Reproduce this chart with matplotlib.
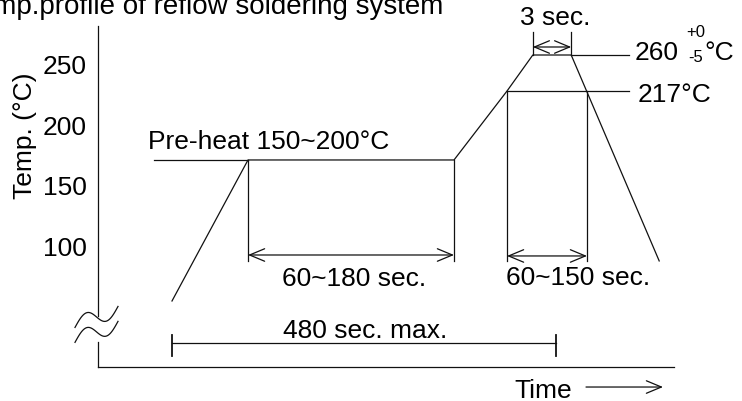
import numpy as np
import matplotlib
matplotlib.use("Agg")
from matplotlib import pyplot as plt

plt.rcParams['font.family'] = ['Liberation Sans', 'DejaVu Sans']

# reflow profile corner points (time in sec, temperature in degC, schematic)
profile_t = [0, 95, 352.5, 418.75, 451, 499, 609]
profile_T = [54.4, 170.6, 170.6, 227.4, 257.1, 257.1, 87.4]

preheat_T = 170.6
liquidus_T = 227.4
peak_T = 257.1
ref_end_t = 571           # where the 217 / 260 guide lines stop
preheat_left_t = -22.5
preheat_span = [95, 352.5]
liquidus_span = [418.75, 518.75]
peak_span = [451, 499]
total_span = [0, 480]
dim_bottom_T = 87.4

yticks = [100, 150, 200, 250]
c = '#111111'
lw = 0.9
fs = 19

fig = plt.figure(figsize=(7.42, 4.02), dpi=100)
ax = fig.add_axes([98/742, 34/402, 576/742, 341/402])
ax.set_xlim(-92.5, 627.5)
ax.set_ylim(0, 281)
for s in ['top', 'right', 'left']:
    ax.spines[s].set_visible(False)
ax.spines['bottom'].set_linewidth(lw)
ax.spines['bottom'].set_color(c)
ax.set_xticks([])
ax.set_yticks(yticks)
ax.set_yticklabels([str(v) for v in yticks], fontsize=fs)
ax.tick_params(axis='y', length=0, pad=8)

# left axis with break
x0 = ax.get_xlim()[0]
ax.plot([x0, x0], [281, 42], color=c, lw=lw, clip_on=False)
ax.plot([x0, x0], [20.6, 0], color=c, lw=lw, clip_on=False)
s = np.linspace(0, 1, 60)
for dy in [0, -12.3]:
    bt = -121.25 + s * 53.75
    bT = 32.6 + s * 17.3 + 7.5 * np.sin(2 * np.pi * s) + dy
    ax.plot(bt, bT, color=c, lw=lw, clip_on=False)

# profile
ax.plot(profile_t, profile_T, color=c, lw=lw, clip_on=False)

# guide lines
ax.plot([preheat_left_t, preheat_span[0]], [preheat_T, preheat_T], color=c, lw=lw)
ax.plot([liquidus_span[0], ref_end_t], [liquidus_T, liquidus_T], color=c, lw=lw)
ax.plot([peak_span[1], ref_end_t], [peak_T, peak_T], color=c, lw=lw)
for t in preheat_span:
    ax.plot([t, t], [preheat_T, dim_bottom_T], color=c, lw=lw)
for t in liquidus_span:
    ax.plot([t, t], [liquidus_T, dim_bottom_T], color=c, lw=lw)
for t in peak_span:
    ax.plot([t, t], [peak_T, 276], color=c, lw=lw, clip_on=False)
for t in total_span:
    ax.plot([t, t], [9.1, 26.4], color=c, lw=1.3)

arr = dict(arrowstyle='<->,head_length=0.6,head_width=0.25', color=c, lw=lw,
           shrinkA=0, shrinkB=0, mutation_scale=18)
ax.annotate('', xy=(preheat_span[0], 92.3), xytext=(preheat_span[1], 92.3), arrowprops=arr)
ax.annotate('', xy=(liquidus_span[0], 91.5), xytext=(liquidus_span[1], 91.5), arrowprops=arr)
ax.annotate('', xy=(peak_span[0], 263.7), xytext=(peak_span[1], 263.7), arrowprops=arr)
ax.plot(total_span, [19.8, 19.8], color=c, lw=lw)

# labels
ax.text(-30, 180.5, 'Pre-heat 150~200°C', fontsize=fs, va='baseline')
ax.text(137.5, 67.5, '60~180 sec.', fontsize=fs, va='baseline')
ax.text(417.5, 68.2, '60~150 sec.', fontsize=fs, va='baseline')
ax.text(139, 25.0, '480 sec. max.', fontsize=fs, va='baseline')
ax.text(435, 282.7, '3 sec.', fontsize=fs, va='baseline', clip_on=False)
ax.text(582.5, 219.2, '217°C', fontsize=fs, va='baseline', clip_on=False)
ax.text(578.75, 253.8, '260', fontsize=fs, va='baseline', clip_on=False)
ax.text(642.5, 276.5, '+0', fontsize=12, va='center', ha='left', clip_on=False)
ax.text(645, 255.9, '-5', fontsize=12, va='center', ha='left', clip_on=False)
ax.text(666, 253.8, '°C', fontsize=fs, va='baseline', clip_on=False)
ax.text(427.5, -24.5, 'Time', fontsize=fs, va='baseline', clip_on=False)
ax.annotate('', xy=(613.75, -16.5), xytext=(517.5, -16.5), annotation_clip=False,
            arrowprops=dict(arrowstyle='->,head_length=0.6,head_width=0.25', color=c,
                            lw=lw, shrinkA=0, shrinkB=0, mutation_scale=18))
ax.text(-183.75, 191.2, 'Temp. (°C)', fontsize=fs, rotation=90, ha='center',
        va='center', clip_on=False)
ax.text(338.75, 292.0, 'Temp.profile of reflow soldering system', fontsize=20,
        ha='right', va='baseline', clip_on=False)

fig.savefig('out.png', dpi=100)
